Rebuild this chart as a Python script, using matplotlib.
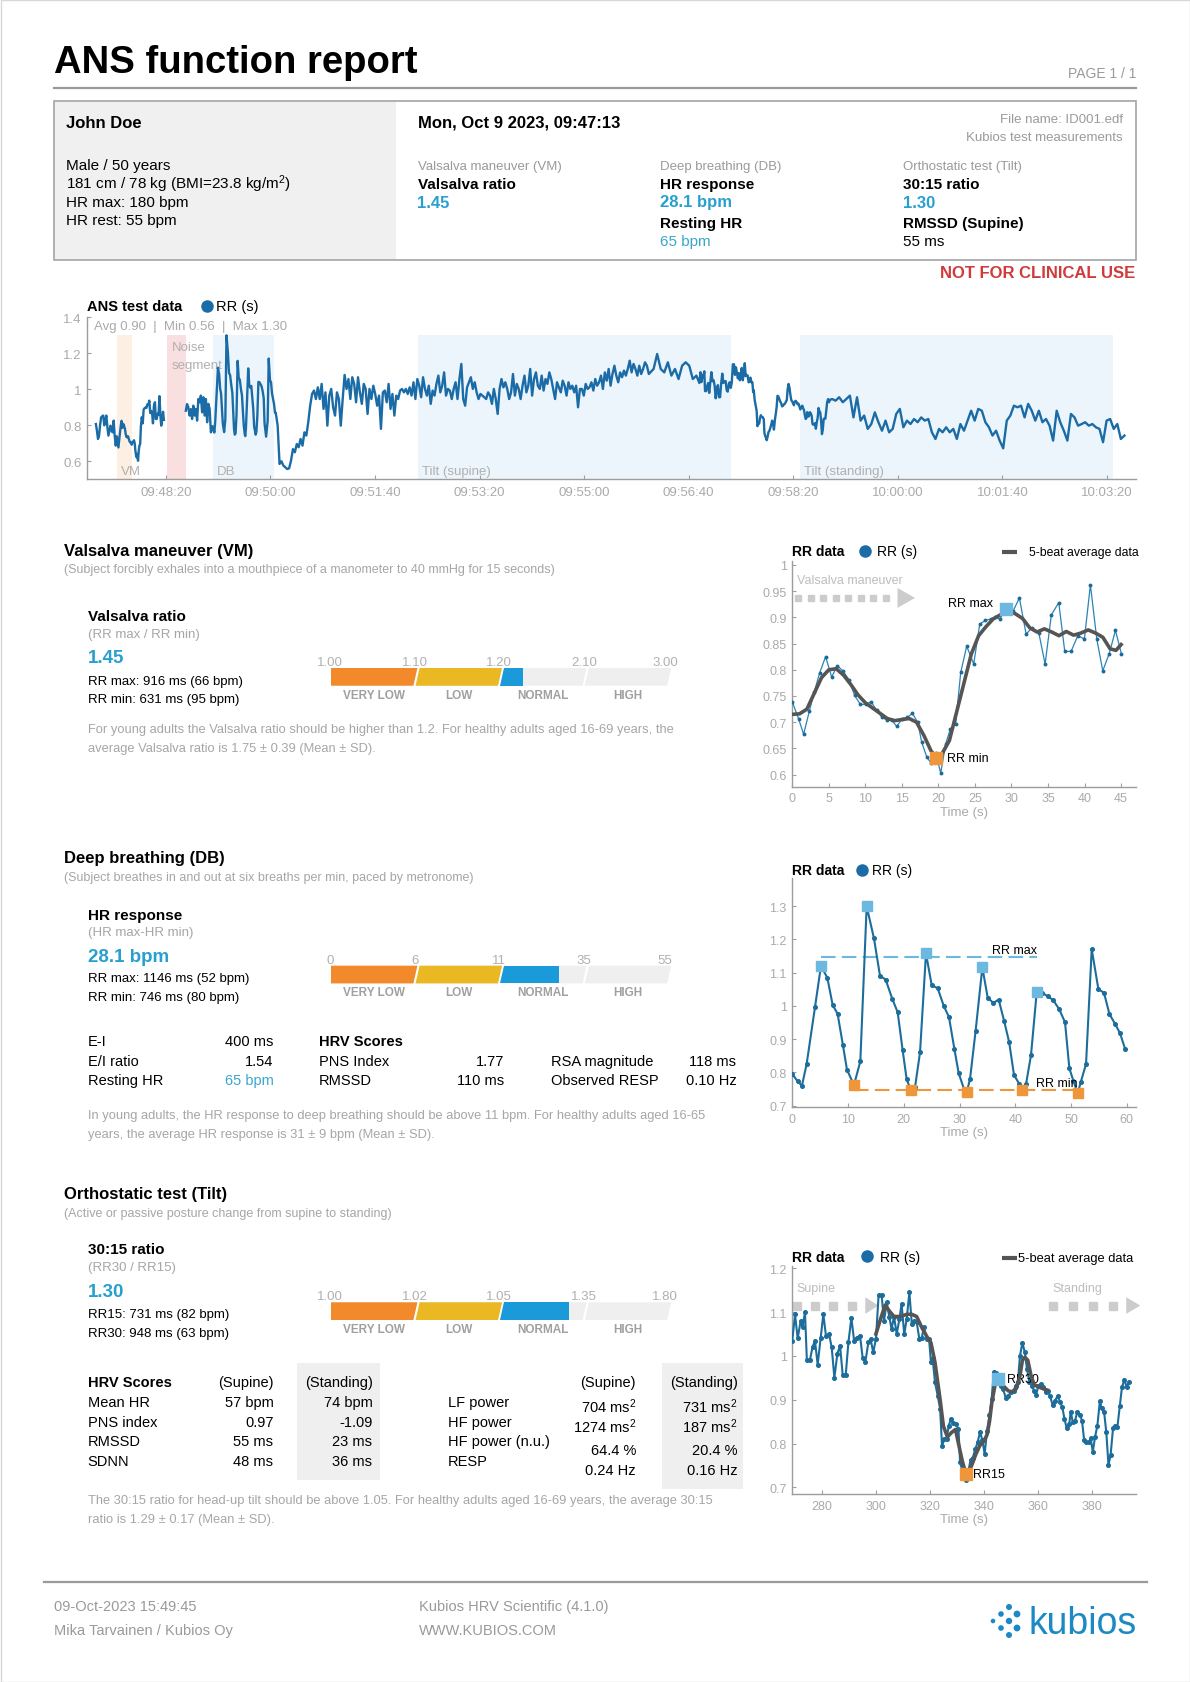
#importing modules
import numpy as np
import matplotlib
matplotlib.use("Agg")
import matplotlib.pyplot as plt
from matplotlib.patches import Rectangle, Polygon, Circle
from matplotlib.ticker import FuncFormatter

#fonts
plt.rcParams['font.family'] = ['Liberation Sans', 'DejaVu Sans']
plt.rcParams['mathtext.fontset'] = 'custom'
plt.rcParams['mathtext.rm'] = 'Liberation Sans'
plt.rcParams['mathtext.bf'] = 'Liberation Sans:bold'
plt.rcParams['mathtext.it'] = 'Liberation Sans:italic'

#---------------- data ----------------
rec_start = "09:47:13"
ov_avg, ov_min, ov_max = 0.90, 0.56, 1.30

# Valsalva maneuver RR (s), time from start of maneuver (s)
vm_t = [0.0, 0.87, 1.55, 2.33, 3.01, 3.74, 4.56, 5.39, 6.16, 6.98, 7.76, 8.53, 9.31, 10.04,
        10.77, 11.55, 12.23, 12.92, 13.60, 14.29, 15.06, 15.75, 16.43, 17.16, 17.71, 18.39,
        18.99, 19.63, 20.31, 21.00, 21.63, 22.36, 23.05, 23.87, 24.83, 25.65, 26.43, 27.16,
        27.75, 28.39, 29.26, 30.26, 31.08, 32.0, 32.82, 33.73, 34.60, 35.46, 36.47, 37.29,
        38.16, 39.07, 39.98, 40.80, 41.67, 42.49, 43.36, 44.23, 45.05]
vm_rr = [0.739, 0.706, 0.677, 0.721, 0.758, 0.794, 0.825, 0.786, 0.808, 0.797, 0.781, 0.751,
         0.734, 0.734, 0.739, 0.723, 0.710, 0.704, 0.704, 0.692, 0.707, 0.709, 0.717, 0.700,
         0.662, 0.634, 0.622, 0.641, 0.603, 0.659, 0.687, 0.697, 0.795, 0.845, 0.811, 0.887,
         0.894, 0.897, 0.900, 0.897, 0.916, 0.913, 0.937, 0.868, 0.880, 0.871, 0.811, 0.905,
         0.928, 0.835, 0.835, 0.865, 0.859, 0.962, 0.859, 0.798, 0.830, 0.875, 0.830]
vm_avg_t = [0, 1, 2, 3, 4, 5, 6, 7, 8, 9, 10, 11, 12, 13, 14, 15, 16, 17, 18, 19, 19.8, 20.5,
            21.5, 22.5, 23.5, 24.5, 25.5, 26.5, 27.5, 28.5, 29.5, 30.5, 31.5, 32.5, 33.5, 34.5,
            35.5, 36.5, 37.5, 38.5, 39.5, 40.5, 41.5, 42.5, 43.5, 44.3, 45.0]
vm_avg_v = [0.715, 0.716, 0.725, 0.755, 0.785, 0.800, 0.802, 0.790, 0.772, 0.752, 0.737, 0.727,
            0.717, 0.707, 0.703, 0.705, 0.707, 0.700, 0.675, 0.645, 0.632, 0.640, 0.665, 0.720,
            0.775, 0.830, 0.865, 0.882, 0.897, 0.905, 0.912, 0.907, 0.898, 0.880, 0.872, 0.878,
            0.872, 0.865, 0.873, 0.866, 0.870, 0.876, 0.870, 0.862, 0.840, 0.837, 0.848]
vm_max = (29.26, 0.916)
vm_min = (19.70, 0.631)
vm_phase = (0.0, 16.8)

# Deep breathing RR (s)
db_t = [0.0, 0.96, 1.73, 2.57, 4.07, 5.14, 6.28, 7.24, 8.13, 9.09, 9.81, 11.06, 12.20, 13.34,
        14.65, 15.73, 16.75, 17.94, 18.90, 19.80, 20.51, 21.23, 22.01, 22.91, 23.98, 25.0,
        26.08, 27.15, 28.11, 29.07, 29.84, 30.80, 31.28, 31.88, 32.89, 34.09, 35.05, 36.06,
        37.02, 37.98, 38.90, 39.77, 40.73, 41.21, 41.93, 42.82, 43.84, 44.86, 45.81, 46.77,
        47.85, 48.92, 49.70, 50.42, 51.20, 51.73, 52.69, 53.71, 54.90, 55.92, 56.88, 57.89,
        58.79, 59.69]
db_rr = [0.795, 0.773, 0.760, 0.825, 0.996, 1.120, 1.085, 1.003, 0.976, 0.881, 0.808, 0.762,
         0.833, 1.300, 1.203, 1.091, 1.079, 1.021, 0.981, 0.866, 0.780, 0.748, 0.755, 0.860,
         1.158, 1.063, 1.053, 1.001, 0.966, 0.871, 0.798, 0.750, 0.740, 0.780, 0.926, 1.116,
         1.025, 1.009, 1.019, 0.956, 0.891, 0.792, 0.765, 0.748, 0.765, 0.852, 1.041, 1.039,
         1.029, 1.018, 0.991, 0.951, 0.812, 0.775, 0.737, 0.770, 0.825, 1.171, 1.051, 1.039,
         0.976, 0.946, 0.918, 0.871]
db_max_idx = [5, 13, 24, 35, 46]
db_min_idx = [11, 21, 32, 43, 54]
db_rr_max_mean = 1.146
db_rr_min_mean = 0.746

# Orthostatic test RR (s)
tilt_t = [269.0, 270.0, 271.0, 272.1, 272.8, 273.7, 274.4, 275.5, 276.5, 277.4, 278.4, 279.5,
          280.5, 281.5, 282.6, 283.6, 284.6, 285.7, 286.7, 287.7, 288.8, 289.8, 290.9, 291.9,
          292.9, 294.1, 295.1, 296.1, 297.2, 298.0, 299.0, 300.0, 301.0, 302.1, 303.0, 304.0,
          305.0, 305.8, 306.7, 307.7, 308.7, 309.5, 310.5, 311.4, 312.4, 313.3, 314.1, 315.1,
          316.1, 317.0, 317.8, 318.8, 319.7, 320.4, 321.0, 321.9, 322.9, 323.8, 324.5, 325.4,
          326.2, 327.0, 327.8, 328.7, 329.6, 330.6, 331.2, 331.9, 332.7, 333.4, 334.3, 335.1,
          335.9, 336.9, 337.7, 338.6, 339.5, 340.3, 341.2, 342.1, 342.9, 343.7, 344.5, 345.4,
          346.3, 347.1, 348.1, 349.1, 350.0, 351.0, 351.8, 352.6, 353.4, 354.3, 355.2, 356.0,
          356.9, 357.8, 358.6, 359.4, 360.2, 361.1, 362.1, 362.9, 363.7, 364.5, 365.5, 366.4,
          367.4, 368.3, 369.1, 369.9, 370.7, 371.7, 372.2, 373.0, 373.8, 374.7, 375.7, 376.4,
          377.2, 378.0, 378.9, 379.6, 380.4, 381.2, 382.1, 383.0, 383.7, 384.6, 385.4, 386.2,
          387.0, 387.9, 388.8, 389.5, 390.4, 391.2, 392.1, 393.0, 393.8]
tilt_rr = [1.035, 1.095, 1.040, 1.080, 1.065, 1.100, 0.990, 0.990, 1.020, 1.035, 0.980, 1.040,
           1.095, 1.045, 1.050, 1.020, 0.950, 1.005, 1.023, 0.956, 0.956, 1.031, 1.087, 1.035,
           1.042, 1.046, 0.995, 0.987, 1.031, 1.039, 1.008, 1.039, 1.139, 1.139, 1.080, 1.122,
           1.088, 1.061, 1.090, 1.050, 1.084, 1.119, 1.050, 1.084, 1.145, 1.073, 1.080, 1.077,
           1.039, 1.042, 1.065, 1.039, 1.039, 0.985, 0.995, 0.940, 0.909, 0.879, 0.795, 0.810,
           0.810, 0.841, 0.856, 0.846, 0.845, 0.833, 0.757, 0.742, 0.730, 0.717, 0.738, 0.763,
           0.768, 0.788, 0.803, 0.826, 0.807, 0.776, 0.829, 0.865, 0.902, 0.964, 0.961, 0.947,
           0.932, 0.925, 0.905, 0.909, 0.917, 0.921, 0.932, 0.940, 1.000, 1.030, 1.008, 0.970,
           0.940, 0.932, 0.921, 0.911, 0.932, 0.936, 0.928, 0.917, 0.921, 0.909, 0.888, 0.898,
           0.909, 0.894, 0.883, 0.856, 0.835, 0.845, 0.873, 0.848, 0.852, 0.873, 0.865, 0.852,
           0.807, 0.803, 0.803, 0.812, 0.781, 0.814, 0.841, 0.896, 0.880, 0.871, 0.826, 0.751,
           0.774, 0.835, 0.839, 0.837, 0.885, 0.928, 0.946, 0.928, 0.941]
tilt_avg_t = [300.0, 301.5, 303.4, 305.3, 306.7, 309.0, 311.5, 313.3, 315.1, 317.0, 318.8,
              320.4, 321.9, 322.9, 323.8, 325.0, 326.5, 328.0, 329.5, 330.6, 332.0, 333.4,
              334.3, 335.5, 337.0, 338.5, 340.0, 341.2, 342.1, 343.0, 344.2, 345.4, 346.3,
              347.5, 349.1, 350.5, 352.0, 353.4, 354.3, 355.2, 356.3, 357.5, 358.6, 360.0,
              362.0, 363.5]
tilt_avg_v = [1.050, 1.080, 1.116, 1.100, 1.090, 1.090, 1.095, 1.095, 1.090, 1.065, 1.045,
              1.030, 0.985, 0.940, 0.900, 0.840, 0.815, 0.825, 0.832, 0.800, 0.760, 0.730,
              0.735, 0.750, 0.775, 0.795, 0.805, 0.820, 0.850, 0.895, 0.935, 0.945, 0.940,
              0.930, 0.920, 0.918, 0.925, 0.955, 0.990, 0.997, 0.990, 0.955, 0.935, 0.930,
              0.925, 0.922]
rr15 = (333.4, 0.731)
rr30 = (345.4, 0.948)
supine_arrow = (270.6, 300.9)
standing_arrow = (365.5, 398.0)

# whole recording (s from 09:47:13), parts not shown in the detail charts
seg_a_start, seg_a_step = 0.0, 1.0
seg_a = [0.807, 0.770, 0.724, 0.740, 0.800, 0.844, 0.850, 0.854, 0.800, 0.830, 0.854, 0.790,
         0.743, 0.770, 0.798, 0.770, 0.761, 0.826, 0.740, 0.687]
seg_b_start, seg_b_step = 86.0, 1.2
seg_b = [0.881, 0.918, 0.900, 0.854, 0.890, 0.835, 0.909, 0.854, 0.891, 0.826, 0.946, 0.928,
         0.965, 0.872, 0.956, 0.854, 0.946, 0.817, 0.919, 0.891, 0.761]
seg_c1_start, seg_c1_step = 172.0, 1.83
seg_c1 = [0.87, 0.80, 0.585, 0.60, 0.576, 0.567, 0.557, 0.561, 0.604, 0.668,
          0.650, 0.696, 0.678, 0.724, 0.687, 0.761, 0.743, 0.817, 0.909, 0.974,
          0.993, 0.946, 1.011, 0.946, 1.030, 0.891, 0.983, 0.798, 0.965, 1.002,
          0.900, 0.854, 0.983, 0.946, 0.798, 0.946, 1.080, 1.002, 1.057, 0.946,
          1.067, 1.030, 0.928, 1.067, 0.983, 0.919, 1.030, 1.002, 0.863, 1.002,
          0.946, 1.020, 0.974, 0.909, 0.965, 0.780, 0.983, 0.993, 0.928, 1.030,
          0.891, 0.974, 0.854, 0.965, 0.946, 0.993, 1.002, 0.983, 1.002, 0.974,
          1.011, 0.965, 1.039, 0.946, 1.057, 1.020, 0.956, 1.067, 1.002, 0.965,
          1.020, 0.919, 0.993, 0.965, 1.030, 1.076, 0.983, 1.020, 1.094, 0.965,
          1.002, 0.993, 0.946, 1.002, 1.039, 0.946, 1.057, 1.141, 0.946, 0.909,
          1.011, 1.039, 1.067, 1.002, 1.039, 0.983, 0.946, 0.974, 0.965, 0.956,
          0.946, 0.983, 0.965, 0.919, 1.002, 0.946, 0.863, 1.002, 1.057, 1.011,
          1.039, 1.002, 0.946, 0.983, 1.085, 0.965, 1.030, 1.002, 0.946, 1.020,
          1.076, 0.983, 1.020, 1.113, 0.965, 1.057, 1.094, 1.020, 1.002, 1.076,
          0.993, 1.057, 1.030, 1.094, 1.057, 1.002, 0.946, 1.039, 1.011, 0.983,
          1.048, 1.020, 0.965, 1.039, 1.002, 1.020, 0.983, 1.020, 0.900, 1.002,
          1.002, 0.965, 1.030, 1.002, 1.011, 1.039, 0.993, 1.057, 1.020, 1.039,
          1.076, 1.002, 1.094, 1.048, 1.113, 1.020, 1.085, 1.131, 1.076, 1.039,
          1.094, 1.067, 1.104, 1.076, 1.113, 1.159, 1.094, 1.141, 1.113, 1.076,
          1.131, 1.085, 1.113, 1.150, 1.131, 1.085]
seg_c2_start, seg_c2_step = 533.4, 3.41
seg_c2 = [1.113, 1.196, 1.113, 1.094, 1.150, 1.076, 1.113, 1.057, 1.131, 1.150, 1.131, 1.057, 1.076]
seg_d_start, seg_d_step = 704.1, 3.41
seg_d = [0.946, 0.937, 0.956, 0.928, 0.946, 0.965, 0.844, 0.956, 0.826, 0.854,
         0.780, 0.807, 0.872, 0.817, 0.770, 0.826, 0.761, 0.780, 0.863, 0.891,
         0.789, 0.826, 0.807, 0.835, 0.817, 0.844, 0.826, 0.835, 0.761, 0.724,
         0.780, 0.761, 0.789, 0.761, 0.780, 0.724, 0.807, 0.770, 0.826, 0.881,
         0.826, 0.891, 0.881, 0.817, 0.789, 0.743, 0.770, 0.715, 0.672, 0.826,
         0.854, 0.909, 0.900, 0.909, 0.844, 0.919, 0.881, 0.826, 0.881, 0.817,
         0.835, 0.798, 0.715, 0.881, 0.817, 0.770, 0.715, 0.863, 0.844, 0.798,
         0.807, 0.817, 0.798, 0.807, 0.789, 0.780, 0.706, 0.826, 0.835, 0.780,
         0.807, 0.724, 0.743]
vm_offset, db_offset, tilt_offset = 20.0, 111.6, 308.2

span_names = ['VM', 'Noise', 'DB', 'Tilt (supine)', 'Tilt (standing)']
span_start = [20.1, 67.7, 111.6, 308.2, 673.4]
span_end = [34.8, 86.0, 170.2, 607.8, 973.0]
span_colors = ['#fdefe2', '#f9dfdf', '#ecf5fc', '#ecf5fc', '#ecf5fc']

# gauges
vm_th = [1.00, 1.10, 1.20, 2.10, 3.00]
vm_th_lab = ['1.00', '1.10', '1.20', '2.10', '3.00']
vm_ratio = 1.45
db_th = [0, 6, 11, 35, 55]
db_th_lab = ['0', '6', '11', '35', '55']
db_hr_response = 28.1
tilt_th = [1.00, 1.02, 1.05, 1.35, 1.80]
tilt_th_lab = ['1.00', '1.02', '1.05', '1.35', '1.80']
tilt_ratio = 1.30
gauge_cats = ['VERY LOW', 'LOW', 'NORMAL', 'HIGH']

#---------------- page ----------------
W, H = 1190, 1683
fig = plt.figure(figsize=(W / 100, H / 100), dpi=100)
page = fig.add_axes([0, 0, 1, 1])
page.set_xlim(0, W)
page.set_ylim(H, 0)
page.axis('off')

BLUE = '#27a0cf'
LBLUE = '#3aa6cc'
GRAY = '#a6a6a6'
RRCOL = '#1b6ca6'
AVGCOL = '#555555'
MAXCOL = '#6db8e0'
MINCOL = '#f0963a'


def T(x, y, s, size=10.5, color='black', weight='normal', ha='left'):
    page.text(x, y, s, fontsize=size, color=color, fontweight=weight, ha=ha, va='baseline')


def ax_at(left, top, right, bottom, tsize=8.5):
    a = fig.add_axes([left / W, 1 - bottom / H, (right - left) / W, (bottom - top) / H])
    a.set_facecolor('none')
    for s in ['top', 'right']:
        a.spines[s].set_visible(False)
    for s in ['left', 'bottom']:
        a.spines[s].set_color('#9c9c9c')
        a.spines[s].set_linewidth(1.0)
    a.tick_params(colors='#a0a0a0', labelcolor='#aaaaaa', labelsize=tsize,
                  direction='in', length=3, width=0.8, pad=4)
    a.yaxis.set_major_formatter(FuncFormatter(lambda v, p: f'{v:g}'))
    return a


page.add_patch(Rectangle((0.5, 0.5), W - 1, H - 1, fill=False, ec='#d8d8d8', lw=1))

# header
T(54, 73, 'ANS function report', size=27.5, weight='bold')
T(1136, 78, 'PAGE 1 / 1', size=10, color='#9a9a9a', ha='right')
page.plot([54, 1136], [89.3, 89.3], color='#9a9a9a', lw=1.6)
page.add_patch(Rectangle((54, 102.3), 342, 158.7, fc='#f0f0f0', ec='none'))
page.add_patch(Rectangle((54, 102.3), 1082, 158.7, fill=False, ec='#a4a4a4', lw=1.2))
T(65.5, 128, 'John Doe', size=12, weight='bold')
T(65.5, 170, 'Male / 50 years', size=11)
T(65.5, 189, '181 cm / 78 kg (BMI=23.8 kg/m$^2$)', size=11)
T(65.5, 207, 'HR max: 180 bpm', size=11)
T(65.5, 225, 'HR rest: 55 bpm', size=11)
T(417.5, 128, 'Mon, Oct 9 2023, 09:47:13', size=12, weight='bold')
T(1123, 122.7, 'File name: ID001.edf', size=9.5, color='#9a9a9a', ha='right')
T(1123, 140.7, 'Kubios test measurements', size=9.5, color='#9a9a9a', ha='right')
T(417.5, 170, 'Valsalva maneuver (VM)', size=9.5, color='#9a9a9a')
T(660.3, 170, 'Deep breathing (DB)', size=9.5, color='#9a9a9a')
T(903.2, 170, 'Orthostatic test (Tilt)', size=9.5, color='#9a9a9a')
T(417.5, 189, 'Valsalva ratio', size=11, weight='bold')
T(660.3, 189, 'HR response', size=11, weight='bold')
T(903.2, 189, '30:15 ratio', size=11, weight='bold')
T(417.5, 207.5, f'{vm_ratio:.2f}', size=12, weight='bold', color=BLUE)
T(660.3, 207.5, f'{db_hr_response:.1f} bpm', size=12, weight='bold', color=BLUE)
T(903.2, 207.5, f'{tilt_ratio:.2f}', size=12, weight='bold', color=BLUE)
T(660.3, 228, 'Resting HR', size=11, weight='bold')
T(903.2, 228, 'RMSSD (Supine)', size=11, weight='bold')
T(660.3, 246, '65 bpm', size=11, color=LBLUE)
T(903.2, 246, '55 ms', size=11)
T(1135, 278.3, 'NOT FOR CLINICAL USE', size=12, weight='bold', color='#d03a3a', ha='right')

#---------------- ANS test data overview ----------------
def steps(start, step, vals):
    return start + step * np.arange(len(vals))

ov_t = np.concatenate([steps(seg_a_start, seg_a_step, seg_a), np.array(vm_t) + vm_offset, [np.nan],
                       steps(seg_b_start, seg_b_step, seg_b), np.array(db_t) + db_offset,
                       steps(seg_c1_start, seg_c1_step, seg_c1), steps(seg_c2_start, seg_c2_step, seg_c2),
                       np.array(tilt_t) + tilt_offset, steps(seg_d_start, seg_d_step, seg_d)])
ov_v = np.concatenate([seg_a, vm_rr, [np.nan], seg_b, db_rr, seg_c1, seg_c2, tilt_rr, seg_d])

ax0 = ax_at(87, 318.3, 1135.7, 480.3, tsize=9.5)
ax0.set_xlim(-8.5, 994.5)
ax0.set_ylim(0.5, 1.4)
for s0, s1, c in zip(span_start, span_end, span_colors):
    ax0.axvspan(s0, s1, ymin=0, ymax=(1.3 - 0.5) / 0.9, color=c, lw=0, zorder=0)
for name, s0 in zip(span_names, span_start):
    if name == 'Noise':
        ax0.text(s0 + 4.8, 0.80, 'Noise', transform=ax0.get_xaxis_transform(),
                 fontsize=9.5, color='#b0b0b0', va='baseline')
        ax0.text(s0 + 4.8, 0.687, 'segment', transform=ax0.get_xaxis_transform(),
                 fontsize=9.5, color='#b0b0b0', va='baseline')
    else:
        ax0.text(s0 + 3.7, 0.033, name, transform=ax0.get_xaxis_transform(),
                 fontsize=9.5, color='#b0b0b0', va='baseline')
ax0.plot(ov_t, ov_v, color=RRCOL, lw=1.7, zorder=3)
h0, m0, sec0 = [int(p) for p in rec_start.split(':')]
t0 = h0 * 3600 + m0 * 60 + sec0
ov_ticks = [67 + 100 * k for k in range(10)]
ax0.set_xticks(ov_ticks)
ax0.set_xticklabels([f'{(t0 + t) // 3600:02d}:{(t0 + t) % 3600 // 60:02d}:{(t0 + t) % 60:02d}'
                     for t in ov_ticks])
ax0.set_yticks([0.6, 0.8, 1.0, 1.2, 1.4])
ax0.tick_params(axis='x', pad=5)
T(87, 310.7, 'ANS test data', size=10.5, weight='bold')
page.plot(207, 306.5, 'o', ms=8, color=RRCOL)
T(216.5, 310.7, 'RR (s)', size=10.5)
T(94, 330, f'Avg {ov_avg:.2f}  |  Min {ov_min:.2f}  |  Max {ov_max:.2f}', size=9.5, color='#aaaaaa')

#---------------- gauges ----------------
def gauge(y_top, th, labels, val):
    x0, sw, gap, h, sl = 331, 82.4, 2.2, 17.7, 4.0
    cols = ['#f28a2b', '#e9b823', '#1a9ad8', '#1a9ad8']
    yb = y_top + h
    for i in range(4):
        lb = x0 + i * (sw + gap)
        lt = lb + (sl if i > 0 else 0)
        rb, rt = lb + sw, lb + sw + sl
        page.add_patch(Polygon([(lb, yb), (rb, yb), (rt, y_top), (lt, y_top)], fc='#efefef', ec='none'))
        frac = float(np.clip((val - th[i]) / (th[i + 1] - th[i]), 0, 1))
        if frac >= 1:
            page.add_patch(Polygon([(lb, yb), (rb, yb), (rt, y_top), (lt, y_top)], fc=cols[i], ec='none'))
        elif frac > 0:
            xf = lb + frac * sw
            page.add_patch(Polygon([(lb, yb), (xf, yb), (xf, y_top), (lt, y_top)], fc=cols[i], ec='none'))
        page.text(lb + sw / 2 + sl / 2, yb + 12, gauge_cats[i], fontsize=8.5, fontweight='bold',
                  color='#a0a0a0', ha='center', va='baseline')
    for i, lab in enumerate(labels):
        bx = x0 + i * (sw + gap) - 1 if i < 4 else x0 + 4 * sw + 3 * gap - 2
        page.text(bx, y_top - 3, lab, fontsize=9.5, color='#b0b0b0', ha='center', va='baseline')

#---------------- Valsalva section ----------------
T(64.5, 556.5, 'Valsalva maneuver (VM)', size=12, weight='bold')
T(64.5, 573, '(Subject forcibly exhales into a mouthpiece of a manometer to 40 mmHg for 15 seconds)',
  size=9, color=GRAY)
T(87.5, 620.7, 'Valsalva ratio', size=11, weight='bold')
T(87.5, 638.3, '(RR max / RR min)', size=9.5, color=GRAY)
T(87.5, 663.3, f'{vm_ratio:.2f}', size=13.5, weight='bold', color=BLUE)
T(87.5, 685, f'RR max: {vm_max[1]*1000:.0f} ms ({60/vm_max[1]:.0f} bpm)', size=9.5)
T(87.5, 703.3, f'RR min: {vm_min[1]*1000:.0f} ms ({60/vm_min[1]:.0f} bpm)', size=9.5)
gauge(669, vm_th, vm_th_lab, vm_ratio)
T(87.5, 733.3, 'For young adults the Valsalva ratio should be higher than 1.2. For healthy adults aged 16-69 years, the',
  size=9.3, color=GRAY)
T(87.5, 751.7, 'average Valsalva ratio is 1.75 ± 0.39 (Mean ± SD).', size=9.3, color=GRAY)

ax1 = ax_at(792.3, 561.7, 1135.7, 787.7, tsize=9)
ax1.set_xlim(0, 47)
ax1.set_ylim(0.577, 1.008)
ax1.set_xticks(range(0, 50, 5))
ax1.set_yticks(np.arange(0.6, 1.001, 0.05))
ax1.plot(vm_t, vm_rr, color='#2a83b6', lw=0.9, marker='o', ms=2.8, mfc='#1a6a9a', mec='none', zorder=3)
ax1.plot(vm_avg_t, vm_avg_v, color=AVGCOL, lw=2.6, zorder=4)
ax1.plot(*vm_max, 's', ms=8, color=MAXCOL, zorder=5)
ax1.plot(*vm_min, 's', ms=8, color=MINCOL, zorder=5)
ax1.text(vm_max[0] - 1.8, vm_max[1] + 0.005, 'RR max', fontsize=9, ha='right', va='baseline')
ax1.text(vm_min[0] + 1.5, vm_min[1], 'RR min', fontsize=9, ha='left', va='center')
ax1.plot(np.linspace(vm_phase[0] + 0.8, vm_phase[1] - 4.0, 8), [0.937] * 8, 's', ms=5,
         color='#cccccc', clip_on=False)
ax1.add_patch(Polygon([(vm_phase[1] - 2.4, 0.956), (vm_phase[1] - 2.4, 0.918), (vm_phase[1], 0.937)],
                      fc='#cccccc', ec='none'))
ax1.text(0.6, 0.966, 'Valsalva maneuver', fontsize=9, color='#bdbdbd', va='baseline')
ax1.set_xlabel('Time (s)', fontsize=9.5, color='#aaaaaa', labelpad=1)
T(792.3, 556, 'RR data', size=10, weight='bold')
page.plot(865, 552, 'o', ms=8, color=RRCOL)
T(876.7, 556, 'RR (s)', size=10)
page.plot([1001.7, 1016.7], [552.7, 552.7], color=AVGCOL, lw=3, solid_capstyle='butt')
T(1029.3, 556, '5-beat average data', size=8.8)

#---------------- Deep breathing section ----------------
T(64.5, 863.3, 'Deep breathing (DB)', size=12, weight='bold')
T(64.5, 881, '(Subject breathes in and out at six breaths per min, paced by metronome)', size=9, color=GRAY)
T(87.5, 920, 'HR response', size=11, weight='bold')
T(87.5, 936, '(HR max-HR min)', size=9.5, color=GRAY)
T(87.5, 961.7, f'{db_hr_response:.1f} bpm', size=13.5, weight='bold', color=BLUE)
T(87.5, 982.3, f'RR max: {db_rr_max_mean*1000:.0f} ms ({60/db_rr_max_mean:.0f} bpm)', size=9.5)
T(87.5, 1001, f'RR min: {db_rr_min_mean*1000:.0f} ms ({60/db_rr_min_mean:.0f} bpm)', size=9.5)
gauge(966.7, db_th, db_th_lab, db_hr_response)

db_rows = [('E-I', '400 ms', 'HRV Scores', '', '', ''),
           ('E/I ratio', '1.54', 'PNS Index', '1.77', 'RSA magnitude', '118 ms'),
           ('Resting HR', '65 bpm', 'RMSSD', '110 ms', 'Observed RESP', '0.10 Hz')]
for r, yb in zip(db_rows, [1046, 1065.7, 1085]):
    T(87.5, yb, r[0], size=10.5)
    T(273.4, yb, r[1], size=10.5, ha='right', color=LBLUE if r[0] == 'Resting HR' else 'black')
    T(319, yb, r[2], size=10.5, weight='bold' if r[2] == 'HRV Scores' else 'normal')
    T(504.2, yb, r[3], size=10.5, ha='right')
    T(551, yb, r[4], size=10.5)
    T(736.3, yb, r[5], size=10.5, ha='right')
T(87.5, 1119.3, 'In young adults, the HR response to deep breathing should be above 11 bpm. For healthy adults aged 16-65',
  size=9.3, color=GRAY)
T(87.5, 1138.3, 'years, the average HR response is 31 ± 9 bpm (Mean ± SD).', size=9.3, color=GRAY)

ax2 = ax_at(792.3, 879.3, 1135.7, 1108.3, tsize=9)
ax2.set_xlim(0, 61.6)
ax2.set_ylim(0.695, 1.384)
ax2.set_xticks(range(0, 61, 10))
ax2.set_yticks(np.arange(0.7, 1.31, 0.1))
ax2.plot(db_t, db_rr, color='#1c6d9c', lw=1.5, marker='o', ms=2.6, zorder=3)
mx_t = [db_t[i] for i in db_max_idx]
mn_t = [db_t[i] for i in db_min_idx]
ax2.plot([mx_t[0], mx_t[-1]], [db_rr_max_mean] * 2, color=MAXCOL, lw=1.5, dashes=(7, 3), zorder=2)
ax2.plot([mn_t[0], mn_t[-1]], [db_rr_min_mean] * 2, color=MINCOL, lw=1.5, dashes=(7, 3), zorder=2)
ax2.plot(mx_t, [db_rr[i] for i in db_max_idx], 's', ms=7.5, color=MAXCOL, zorder=5)
ax2.plot(mn_t, [db_rr[i] for i in db_min_idx], 's', ms=7.5, color=MINCOL, zorder=5)
ax2.text(35.9, 1.159, 'RR max', fontsize=9, va='baseline')
ax2.text(43.8, 0.758, 'RR min', fontsize=9, va='baseline')
ax2.set_xlabel('Time (s)', fontsize=9.5, color='#aaaaaa', labelpad=1)
T(792.3, 875, 'RR data', size=10, weight='bold')
page.plot(862.3, 871, 'o', ms=8, color=RRCOL)
T(871.7, 875, 'RR (s)', size=10)

#---------------- Orthostatic section ----------------
T(64.5, 1199.3, 'Orthostatic test (Tilt)', size=12, weight='bold')
T(64.5, 1216.7, '(Active or passive posture change from supine to standing)', size=9, color=GRAY)
T(87.5, 1254, '30:15 ratio', size=11, weight='bold')
T(87.5, 1270.7, '(RR30 / RR15)', size=9.5, color=GRAY)
T(87.5, 1296.7, f'{tilt_ratio:.2f}', size=13.5, weight='bold', color=BLUE)
T(87.5, 1318.3, f'RR15: {rr15[1]*1000:.0f} ms ({60/rr15[1]:.0f} bpm)', size=9.5)
T(87.5, 1336.7, f'RR30: {rr30[1]*1000:.0f} ms ({60/rr30[1]:.0f} bpm)', size=9.5)
gauge(1303.3, tilt_th, tilt_th_lab, tilt_ratio)

page.add_patch(Rectangle((296.6, 1364), 83.4, 116.7, fc='#efefef', ec='none'))
page.add_patch(Rectangle((661.8, 1364), 81.2, 126, fc='#efefef', ec='none'))
T(87.5, 1386.7, 'HRV Scores', size=10.5, weight='bold')
T(273.4, 1386.7, '(Supine)', size=10.5, ha='right')
T(372.5, 1386.7, '(Standing)', size=10.5, ha='right')
T(636, 1386.7, '(Supine)', size=10.5, ha='right')
T(737.7, 1386.7, '(Standing)', size=10.5, ha='right')
tl_rows = [('Mean HR', '57 bpm', '74 bpm'), ('PNS index', '0.97', '-1.09'),
           ('RMSSD', '55 ms', '23 ms'), ('SDNN', '48 ms', '36 ms')]
tr_rows = [('LF power', '704 ms$^2$', '731 ms$^2$'), ('HF power', '1274 ms$^2$', '187 ms$^2$'),
           ('HF power (n.u.)', '64.4 %', '20.4 %'), ('RESP', '0.24 Hz', '0.16 Hz')]
for r, yb in zip(tl_rows, [1407.3, 1426.7, 1446, 1466]):
    T(87.5, yb, r[0], size=10.5)
    T(273.4, yb, r[1], size=10.5, ha='right')
    T(372.5, yb, r[2], size=10.5, ha='right')
for r, yb, yv in zip(tr_rows, [1407.3, 1426.7, 1446, 1466], [1413.3, 1432.7, 1455, 1475]):
    T(447.5, yb, r[0], size=10.5)
    T(636, yv, r[1], size=10.5, ha='right')
    T(737.7, yv, r[2], size=10.5, ha='right')
T(87.5, 1504, 'The 30:15 ratio for head-up tilt should be above 1.05. For healthy adults aged 16-69 years, the average 30:15',
  size=9.3, color=GRAY)
T(87.5, 1522.7, 'ratio is 1.29 ± 0.17 (Mean ± SD).', size=9.3, color=GRAY)

ax3 = ax_at(792.3, 1266.7, 1135.7, 1495.3, tsize=9)
ax3.set_xlim(269.0, 396.3)
ax3.set_ylim(0.684, 1.206)
ax3.set_xticks(range(280, 381, 20))
ax3.set_yticks(np.arange(0.7, 1.21, 0.1))
ax3.plot(tilt_t, tilt_rr, color='#1c6d9c', lw=1.5, marker='o', ms=2.6, zorder=3)
ax3.plot(tilt_avg_t, tilt_avg_v, color=AVGCOL, lw=2.6, zorder=4)
ax3.plot(*rr15, 's', ms=8, color=MINCOL, zorder=5)
ax3.plot(*rr30, 's', ms=8, color=MAXCOL, zorder=5)
ax3.text(rr15[0] + 2.7, rr15[1], 'RR15', fontsize=9, va='center')
ax3.text(rr30[0] + 3.3, rr30[1], 'RR30', fontsize=9, va='center')
for (a0, a1), lab in zip([supine_arrow, standing_arrow], ['Supine', 'Standing']):
    head = (a1 - a0) * 0.16
    ax3.plot(np.linspace(a0, a1 - head - 5.0, 4), [1.115] * 4, 's', ms=6, color='#cccccc', clip_on=False)
    ax3.add_patch(Polygon([(a1 - head, 1.134), (a1 - head, 1.096), (a1, 1.115)], fc='#cccccc',
                          ec='none', clip_on=False))
    ax3.text(a0, 1.149, lab, fontsize=9, color='#bdbdbd', va='baseline')
ax3.set_xlabel('Time (s)', fontsize=9.5, color='#aaaaaa', labelpad=1)
T(792.3, 1262, 'RR data', size=10, weight='bold')
page.plot(867.3, 1257.3, 'o', ms=8, color=RRCOL)
T(880, 1262, 'RR (s)', size=10)
page.plot([1001.7, 1016.7], [1259.3, 1259.3], color=AVGCOL, lw=3, solid_capstyle='butt')
T(1018.3, 1262, '5-beat average data', size=9.3)

#---------------- footer ----------------
page.plot([43.5, 1147], [1582.7, 1582.7], color='#9a9a9a', lw=1.6)
T(54.3, 1610.7, '09-Oct-2023 15:49:45', size=10.5, color='#9a9a9a')
T(54.3, 1635, 'Mika Tarvainen / Kubios Oy', size=10.5, color='#9a9a9a')
T(418.6, 1610.7, 'Kubios HRV Scientific (4.1.0)', size=10.5, color='#9a9a9a')
T(418.6, 1635, 'WWW.KUBIOS.COM', size=10.5, color='#9a9a9a')
T(1136.4, 1634, 'kubios', size=27, color='#1b8ac4', ha='right')
for cx, cy, r in [(993, 1622, 2.3), (1001, 1615, 2.8), (1001, 1629, 2.8), (1009, 1608, 3.0),
                  (1009, 1622, 3.2), (1009, 1636, 3.0), (1017, 1615, 3.4), (1017, 1629, 3.4)]:
    page.add_patch(Circle((cx, cy), r, fc='#1b8ac4', ec='none'))

fig.savefig('out.png', dpi=100)
